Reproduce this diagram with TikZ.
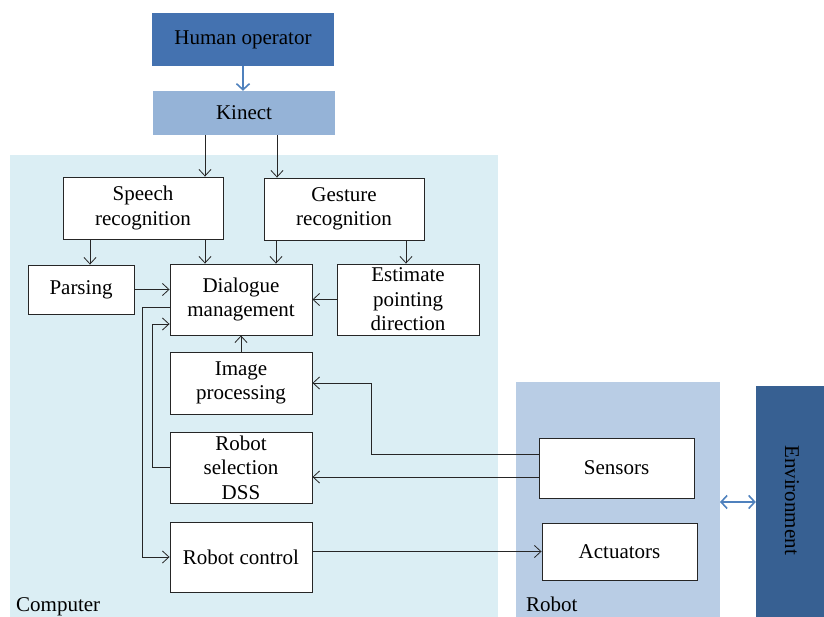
\documentclass[tikz,border=0pt]{standalone}
\usepackage{fontspec}
\setmainfont{Liberation Serif}
\usetikzlibrary{arrows.meta,calc}
\definecolor{humanblue}{HTML}{4472B0}
\definecolor{kinectblue}{HTML}{95B3D7}
\definecolor{compbg}{HTML}{DBEEF4}
\definecolor{robotbg}{HTML}{B9CDE5}
\definecolor{envblue}{HTML}{376092}
\definecolor{arrblue}{HTML}{4F81BD}
\begin{document}
\begin{tikzpicture}[x=1pt,y=-1pt,
  txt/.style={font=\fontsize{21}{24.5}\selectfont, text=black, align=center},
  box/.style={txt, draw=black!85, line width=0.9pt, fill=white, inner sep=0pt},
  arr/.style={draw=black!85, line width=0.8pt, -{Straight Barb[length=6.5pt,width=12pt]}},
  barr/.style={draw=arrblue, line width=1.6pt, -{Straight Barb[length=6pt,width=13pt]}},
  bdarr/.style={draw=arrblue, line width=1.6pt, {Straight Barb[length=6pt,width=13pt]}-{Straight Barb[length=6pt,width=13pt]}}
]
\useasboundingbox (0,0) rectangle (824,617);
% background regions
\fill[compbg] (10,155) rectangle (498,617);
\fill[robotbg] (516,382) rectangle (720,617);
\node[fill=envblue, minimum width=68pt, minimum height=231pt, inner sep=0pt] (env) at (790,501.5) {};
\node[txt, rotate=-90] (envt) at (792,500) {Environment};
% top boxes
\node[txt, fill=humanblue, minimum width=182pt, minimum height=53pt, inner sep=0pt] (human) at (243,39.5) {Human operator};
\node[txt, fill=kinectblue, minimum width=182pt, minimum height=44pt, inner sep=0pt] (kinect) at (244,113) {Kinect};
% computer boxes
\node[box, minimum width=160pt, minimum height=62pt] (speech) at (143,208) {Speech\\recognition};
\node[box, minimum width=160pt, minimum height=62pt] (gesture) at (344,209) {Gesture\\recognition};
\node[box, minimum width=106pt, minimum height=49pt] (parsing) at (81,289.5) {Parsing};
\node[box, minimum width=142pt, minimum height=71pt] (dialogue) at (241,299.5) {Dialogue\\management};
\node[box, minimum width=142pt, minimum height=71pt] (estimate) at (408,299.5) {Estimate\\pointing\\direction};
\node[box, minimum width=142pt, minimum height=62pt] (image) at (241,383) {Image\\processing};
\node[box, minimum width=142pt, minimum height=71pt] (robsel) at (241,467.5) {Robot\\selection\\DSS};
\node[box, minimum width=142pt, minimum height=70pt] (robctrl) at (241,557) {Robot control};
% robot boxes
\node[box, minimum width=155pt, minimum height=60pt] (sensors) at (616.5,468) {Sensors};
\node[box, minimum width=155pt, minimum height=57pt] (actuators) at (619.5,551.5) {Actuators};
% labels
\node[txt, anchor=base west, inner sep=0pt] (complabel) at (16,611) {Computer};
\node[txt, anchor=base west, inner sep=0pt] (robotlabel) at (526,611) {Robot};
% connectors
\draw[barr] (human.south) -- (human.south |- kinect.north);
\draw[arr] ([xshift=-39pt]kinect.south) coordinate (k1) -- (k1 |- speech.north);
\draw[arr] ([xshift=33pt]kinect.south) coordinate (k2) -- (k2 |- gesture.north);
\draw[arr] ([xshift=-53pt]speech.south) coordinate (s1) -- (s1 |- parsing.north);
\draw[arr] ([xshift=62pt]speech.south) coordinate (s2) -- (s2 |- dialogue.north);
\draw[arr] ([xshift=-68pt]gesture.south) coordinate (g1) -- (g1 |- dialogue.north);
\draw[arr] ([xshift=62pt]gesture.south) coordinate (g2) -- (g2 |- estimate.north);
\draw[arr] (parsing.east) -- (parsing.east -| dialogue.west);
\draw[arr] (estimate.west) -- (estimate.west -| dialogue.east);
\draw[arr] ([yshift=-7.5pt]dialogue.west) -- ++(-27,0) |- (robctrl.west);
\draw[arr] (robsel.west) -- ++(-17,0) |- ([yshift=-24.5pt]dialogue.west);
\draw[arr] (image.north) -- (dialogue.south);
\draw[arr] ([yshift=14pt]sensors.west) -- ++(-167,0) |- (image.east);
\draw[arr] ([yshift=-9pt]sensors.west) coordinate (sn2) -- (sn2 -| robsel.east);
\draw[arr] (robctrl.east |- actuators.west) -- (actuators.west);
\draw[bdarr] (720,502) coordinate (rb) -- (rb -| env.west);
\end{tikzpicture}
\end{document}
